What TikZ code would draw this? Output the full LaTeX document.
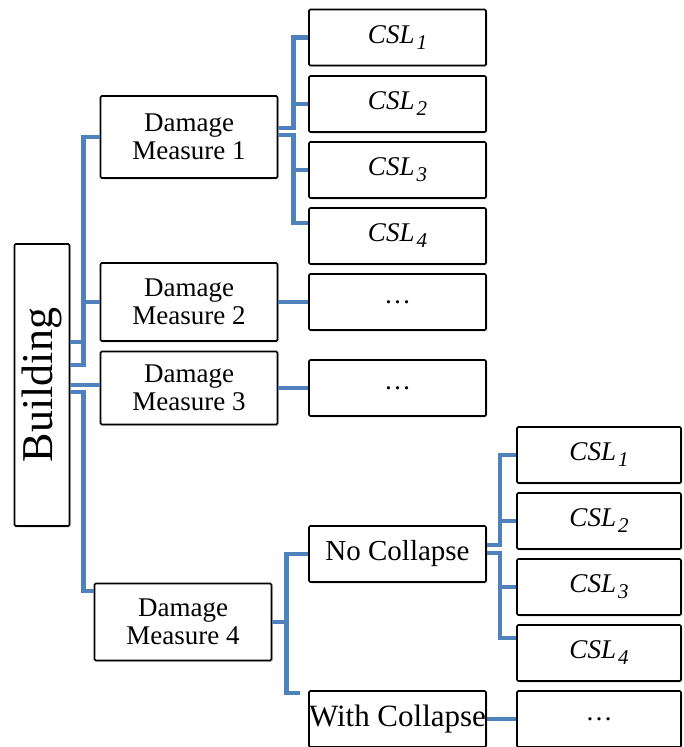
\documentclass[tikz,border=0pt]{standalone}
\usepackage{fontspec}
\setmainfont{Liberation Serif}
\usetikzlibrary{shadows}
\definecolor{linkblue}{RGB}{79,129,189}
\newcommand{\csl}[1]{{\itshape CSL\kern2pt\raisebox{-6pt}{\fontsize{21}{21}\selectfont #1}}}

\begin{document}
\begin{tikzpicture}[x=1pt,y=-1pt,
  box/.style={draw=black,line width=1.6pt,rounded corners=1.2pt,fill=white,
    inner sep=0pt,align=center,minimum width=177pt,minimum height=56pt,
    font=\fontsize{27}{28}\selectfont,
    drop shadow={opacity=0.25,shadow xshift=1.5pt,shadow yshift=-1.5pt}},
  link/.style={draw=linkblue,line width=4.4pt}]
\useasboundingbox (0,0) rectangle (683,747);

% Building
\node[box,minimum width=55pt,minimum height=282pt,font=\fontsize{44}{46}\selectfont]
  (bld) at (42,385) {\rotatebox{90}{Building}};

% Damage measures
\node[box,minimum height=82pt] (dm1) at (189,137) {Damage\\Measure 1};
\node[box,minimum height=78pt] (dm2) at (189,302) {Damage\\Measure 2};
\node[box,minimum height=73pt] (dm3) at (189,388) {Damage\\Measure 3};
\node[box,minimum height=77pt] (dm4) at (183,622) {Damage\\Measure 4};

% Collapse states of DM1
\node[box] (csl1) at (397.5,37.5) {\csl{1}};
\node[box] (csl2) at (397.5,104) {\csl{2}};
\node[box] (csl3) at (397.5,170) {\csl{3}};
\node[box] (csl4) at (397.5,236) {\csl{4}};
\node[box] (dots2) at (397.5,302) {\ldots};
\node[box] (dots3) at (397.5,388) {\ldots};

% Collapse cases of DM4
\node[box,font=\fontsize{29}{30}\selectfont] (noc) at (397.5,554) {No Collapse};
\node[box,font=\fontsize{31}{32}\selectfont] (wc) at (397.5,719) {With Collapse};

% Collapse states of No Collapse
\node[box,minimum width=164pt] (rcsl1) at (599,455) {\csl{1}};
\node[box,minimum width=164pt] (rcsl2) at (599,521) {\csl{2}};
\node[box,minimum width=164pt] (rcsl3) at (599,587) {\csl{3}};
\node[box,minimum width=164pt] (rcsl4) at (599,653) {\csl{4}};
\node[box,minimum width=164pt] (rdots) at (599,719) {\ldots};

% Links from building
\draw[link] ([yshift=20pt]bld.east) -- ++(13,0) |- (dm1.west);
\draw[link] ([yshift=43pt]bld.east) -- ++(13,0) |- (dm2.west);
\draw[link] (bld.east) -- (bld.east -| dm3.west);
\draw[link] ([yshift=-7pt]bld.east) -- ++(13,0) |- ([yshift=31pt]dm4.west);

% Links from DM1
\draw[link] ([yshift=9pt]dm1.east) -- ++(15,0) |- (csl1.west);
\draw[link] ([yshift=9pt]dm1.east) -- ++(15,0) |- (csl2.west);
\draw[link] ([yshift=2pt]dm1.east) -- ++(15,0) |- (csl3.west);
\draw[link] ([yshift=2pt]dm1.east) -- ++(15,0) |- ([yshift=13pt]csl4.west);

% Links from DM2, DM3
\draw[link] (dm2.east) -- (dots2.west);
\draw[link] (dm3.east) -- (dots3.west);

% Links from DM4
\draw[link] (dm4.east) -- ++(14,0) |- (noc.west);
\draw[link] (dm4.east) -- ++(14,0) |- ([xshift=-8pt,yshift=-3pt]wc.north west);

% Links from No Collapse
\draw[link] ([yshift=9pt]noc.east) -- ++(13,0) |- (rcsl1.west);
\draw[link] ([yshift=9pt]noc.east) -- ++(13,0) |- (rcsl2.west);
\draw[link] ([yshift=1pt]noc.east) -- ++(13,0) |- (rcsl3.west);
\draw[link] ([yshift=1pt]noc.east) -- ++(13,0) |- ([yshift=15pt]rcsl4.west);

% Link from With Collapse
\draw[link] (wc.east) -- (rdots.west);
\end{tikzpicture}
\end{document}
